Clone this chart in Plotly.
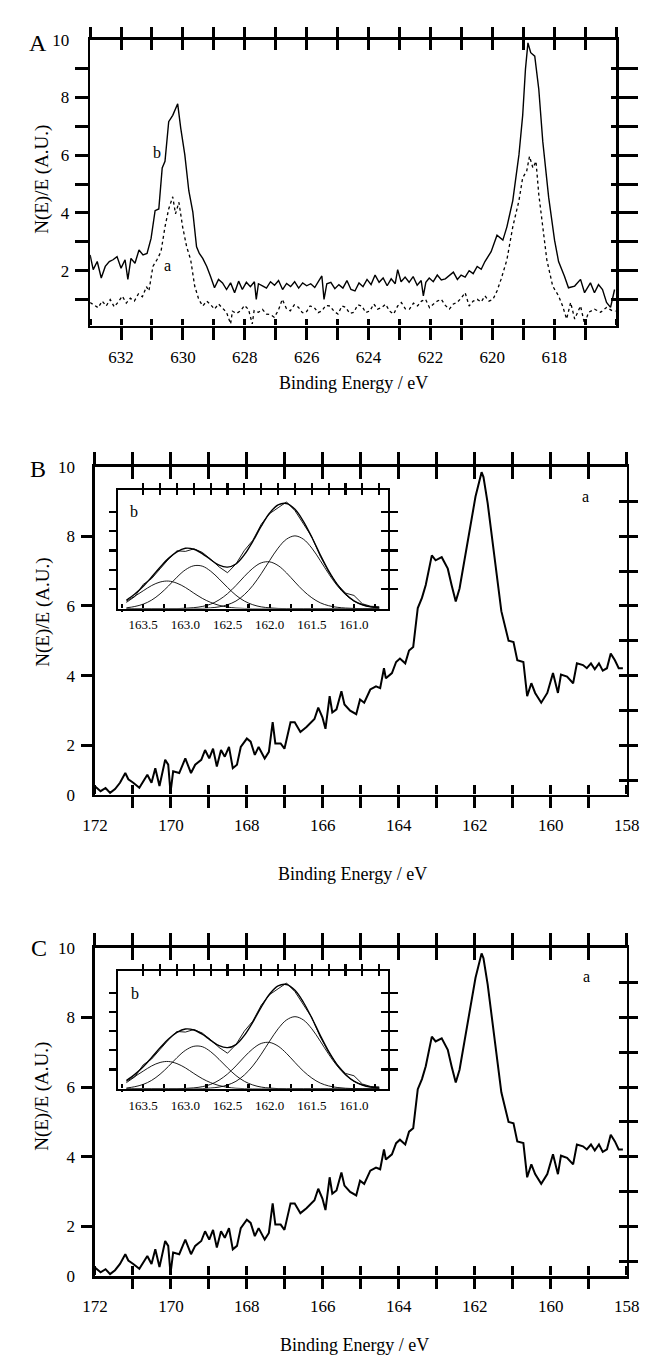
import plotly.graph_objects as go

W, H = 648, 1360
SERIF = "Liberation Serif, Times New Roman, serif"

# ---------------- Panel A data (Binding energy / eV, N(E)/E) ----------------
A_b_E = [633.0, 632.9, 632.77, 632.64, 632.51, 632.38, 632.26, 632.13, 632.0, 631.87,
         631.78, 631.68, 631.55, 631.42, 631.29, 631.16, 631.03, 630.9, 630.78, 630.67,
         630.58, 630.46, 630.33, 630.17, 630.07, 629.94, 629.81, 629.68, 629.56, 629.47,
         629.36, 629.23, 629.11,
         628.98, 628.85, 628.72, 628.59, 628.46, 628.33, 628.20, 628.08, 627.95, 627.82,
         627.69, 627.63, 627.56, 627.43, 627.30, 627.17, 627.04, 626.91, 626.78, 626.65,
         626.52, 626.39, 626.26, 626.13, 626.00, 625.87, 625.74, 625.61, 625.51, 625.44,
         625.35, 625.22, 625.09, 624.96, 624.83, 624.70, 624.57, 624.44, 624.31, 624.18,
         624.05, 623.92, 623.79, 623.66, 623.53, 623.40, 623.27, 623.14, 623.06, 622.95,
         622.82, 622.69, 622.56, 622.43, 622.30, 622.23, 622.15, 622.04, 621.91, 621.78,
         621.65, 621.52, 621.39, 621.26, 621.13, 621.01, 620.88, 620.75, 620.62, 620.49,
         620.36, 620.24,
         620.04, 619.85, 619.66, 619.53, 619.34, 619.14, 619.02, 618.93, 618.85, 618.76,
         618.63, 618.5, 618.37, 618.18, 617.99, 617.86, 617.67, 617.54, 617.34, 617.15,
         617.02, 616.83, 616.7, 616.57, 616.44, 616.31, 616.18, 616.05]
A_b_I = [2.55, 2.04, 2.32, 1.75, 2.15, 2.32, 2.38, 2.49, 2.09, 2.38,
         1.70, 2.43, 2.26, 2.72, 2.55, 2.60, 3.12, 4.08, 4.14, 5.56,
         5.79, 7.16, 7.38, 7.78, 6.93, 6.02, 4.77, 4.03, 2.83, 2.60,
         2.43, 2.15, 1.81,
         1.41, 1.70, 1.58, 1.35, 1.58, 1.24, 1.64, 1.35, 1.60, 1.45,
         1.62, 1.01, 1.55, 1.48, 1.40, 1.62, 1.50, 1.66, 1.35, 1.56,
         1.45, 1.62, 1.40, 1.58, 1.48, 1.55, 1.42, 1.65, 1.82, 1.01,
         1.55, 1.60, 1.38, 1.52, 1.40, 1.66, 1.35, 1.30, 1.58, 1.45,
         1.70, 1.52, 1.85, 1.60, 1.75, 1.48, 1.72, 1.55, 2.04, 1.62,
         1.78, 1.60, 1.80, 1.50, 1.66, 1.13, 1.60, 1.75, 1.62, 1.85,
         1.68, 1.72, 1.85, 1.95, 1.70, 1.85, 1.78, 2.00, 1.90, 2.15,
         2.05, 2.32,
         2.66, 3.23, 3.06, 3.52, 4.43, 6.02, 7.38, 8.98, 9.89, 9.55,
         9.43, 8.29, 6.47, 4.54, 3.06, 2.32, 1.81, 1.41, 1.47, 1.70,
         1.24, 1.58, 1.24, 1.52, 1.35, 0.90, 0.73, 1.35]

A_a_E = [633.0, 632.87, 632.74, 632.61, 632.48, 632.35, 632.22, 632.09, 631.96, 631.83,
         631.70, 631.57, 631.44, 631.31, 631.18, 631.10, 630.97, 630.84, 630.71, 630.58,
         630.46, 630.33, 630.24, 630.13, 630.01, 629.88, 629.75, 629.62, 629.49, 629.36,
         629.23, 629.10, 628.98, 628.85, 628.72, 628.59, 628.46, 628.40, 628.27, 628.14,
         628.01, 627.88, 627.76, 627.70, 627.56, 627.43, 627.30, 627.17, 627.05, 626.92,
         626.79, 626.66, 626.53, 626.40, 626.27, 626.14, 626.02, 625.89, 625.76, 625.63,
         625.51, 625.38, 625.25, 625.12, 624.99, 624.86, 624.74, 624.61, 624.48, 624.35,
         624.22, 624.09, 623.96, 623.83, 623.71, 623.58, 623.45, 623.32, 623.19, 623.06,
         622.94, 622.81, 622.68, 622.55, 622.42, 622.29, 622.16, 622.03, 621.91, 621.78,
         621.65, 621.52, 621.39, 621.26, 621.14, 621.01, 620.88, 620.75, 620.62, 620.49,
         620.36, 620.24, 620.11, 619.98, 619.85, 619.72, 619.53, 619.34, 619.14, 619.02,
         618.89, 618.80, 618.69, 618.59, 618.50, 618.37, 618.24, 618.05, 617.86, 617.73,
         617.60, 617.47, 617.34, 617.15, 617.02, 616.89, 616.70, 616.50, 616.31, 616.12,
         616.02]
A_a_I = [0.90, 0.80, 0.72, 0.95, 0.78, 1.00, 0.75, 0.92, 1.12, 0.88,
         1.05, 0.95, 1.20, 1.10, 1.45, 1.30, 2.15, 2.38, 2.66, 3.52,
         4.14, 4.56, 3.97, 4.37, 3.52, 2.83, 2.38, 1.47, 1.01, 0.78,
         0.95, 0.82, 0.67, 0.85, 0.72, 0.56, 0.16, 0.60, 0.52, 0.61,
         0.80, 0.66, 0.16, 0.62, 0.56, 0.66, 0.50, 0.48, 0.39, 0.62,
         1.01, 0.70, 0.61, 0.82, 0.74, 0.55, 0.56, 0.78, 0.73, 0.55,
         0.61, 0.80, 0.78, 0.60, 0.50, 0.78, 0.73, 0.52, 0.56, 0.82,
         0.78, 0.55, 0.61, 0.85, 0.67, 0.72, 0.84, 0.60, 0.50, 0.78,
         0.90, 0.68, 0.67, 0.88, 0.78, 0.95, 1.01, 0.72, 0.84, 0.95,
         1.01, 0.80, 0.67, 0.85, 0.90, 1.05, 1.24, 0.78, 0.95, 1.01,
         0.92, 1.13, 0.95, 1.01, 1.30, 1.70, 2.38, 3.52, 4.43, 5.22,
         5.45, 5.96, 5.56, 5.79, 4.65, 3.52, 2.38, 1.47, 1.13, 0.78,
         0.33, 0.90, 0.33, 0.78, 0.16, 0.56, 0.67, 0.56, 0.73, 0.61,
         0.60]

# ---------------- Panels B and C data (S 2p region) ----------------
S_E = [172.0, 171.85, 171.72, 171.6, 171.47, 171.34, 171.2, 171.12, 170.99, 170.83,
       170.62, 170.51, 170.41, 170.30, 170.15, 170.07, 170.01, 169.94, 169.78, 169.62,
       169.47, 169.36, 169.20, 169.10, 168.99, 168.89, 168.79, 168.68, 168.58, 168.47,
       168.37, 168.26, 168.16, 168.00, 167.90, 167.79, 167.69, 167.53, 167.42, 167.32,
       167.25, 167.11, 167.01, 166.85, 166.74, 166.59, 166.43, 166.22, 166.12, 166.01,
       165.93, 165.82, 165.75, 165.64, 165.51, 165.43, 165.28, 165.12, 165.02, 164.91,
       164.75, 164.60, 164.49, 164.39, 164.34, 164.18, 164.07, 163.97, 163.83, 163.73,
       163.62, 163.50, 163.39, 163.29, 163.13, 163.03, 162.87, 162.71, 162.61, 162.50,
       162.40, 162.24, 162.08, 161.98, 161.82, 161.77, 161.66, 161.51, 161.30, 161.11,
       160.98, 160.88, 160.72, 160.62, 160.51, 160.41, 160.25, 160.09, 159.94, 159.81,
       159.73, 159.57, 159.41, 159.31, 159.15, 159.05, 158.94, 158.84, 158.73, 158.63,
       158.52, 158.42, 158.31, 158.21, 158.10]
S_I = [0.82, 0.68, 0.77, 0.63, 0.74, 0.92, 1.20, 1.02, 0.92, 0.78,
       1.15, 0.92, 1.34, 0.83, 1.58, 1.44, 0.64, 1.25, 1.20, 1.62,
       1.20, 1.44, 1.58, 1.86, 1.62, 1.90, 1.39, 1.86, 1.67, 1.95,
       1.34, 1.44, 1.95, 2.19, 2.10, 1.72, 1.95, 1.62, 1.81, 2.66,
       2.05, 2.05, 1.90, 2.66, 2.66, 2.38, 2.52, 2.75, 3.08, 2.80,
       2.47, 3.41, 2.94, 3.03, 3.55, 3.17, 2.99, 2.89, 3.31, 3.22,
       3.60, 3.69, 3.64, 4.21, 3.92, 4.07, 4.39, 4.49, 4.35, 4.72,
       4.82, 5.94, 6.23, 6.60, 7.45, 7.31, 7.40, 7.07, 6.60, 6.13,
       6.50, 7.54, 8.57, 9.14, 9.84, 9.70, 8.95, 7.63, 5.85, 5.00,
       4.96, 4.44, 4.39, 3.41, 3.78, 3.50, 3.22, 3.50, 4.07, 3.50,
       4.03, 3.97, 3.78, 4.35, 4.30, 4.21, 4.35, 4.18, 4.35, 4.14,
       4.21, 4.63, 4.44, 4.21, 4.21]

# inset (curve fit of the S 2p doublet)
IN_E = [163.7, 163.6, 163.5, 163.4, 163.3, 163.2, 163.1, 163.0, 162.9, 162.8,
        162.7, 162.6, 162.5, 162.4, 162.3, 162.2, 162.1, 162.0, 161.9, 161.8,
        161.7, 161.6, 161.5, 161.4, 161.3, 161.2, 161.1, 161.0, 160.9, 160.8, 160.7]
IN_data = [0.32, 0.62, 1.25, 1.55, 2.05, 2.55, 2.98, 2.95, 3.08, 2.90,
           2.55, 2.15, 1.85, 2.30, 3.00, 3.52, 4.35, 4.90, 5.20, 5.50,
           5.05, 4.40, 3.70, 2.70, 1.90, 1.25, 0.80, 0.68, 0.25, 0.12, 0.10]
IN_fit = [0.43, 0.75, 1.15, 1.63, 2.13, 2.59, 2.93, 3.11, 3.06, 2.84,
          2.52, 2.24, 2.14, 2.30, 2.78, 3.47, 4.25, 4.93, 5.35, 5.42,
          5.12, 4.50, 3.68, 2.78, 1.95, 1.26, 0.75, 0.40, 0.20, 0.09, 0.04]
IN_c1 = [0.39, 0.64, 0.92, 1.19, 1.37, 1.42, 1.31, 1.09, 0.80, 0.53,
         0.32, 0.17, 0.08, 0.03, 0.01, 0, 0, 0, 0, 0,
         0, 0, 0, 0, 0, 0, 0, 0, 0, 0, 0]
IN_c2 = [0.04, 0.11, 0.23, 0.44, 0.76, 1.17, 1.62, 2.00, 2.21, 2.19,
         1.93, 1.53, 1.09, 0.69, 0.39, 0.20, 0.09, 0.04, 0.01, 0,
         0, 0, 0, 0, 0, 0, 0, 0, 0, 0, 0]
IN_c3 = [0, 0, 0, 0, 0, 0, 0, 0.02, 0.05, 0.11,
         0.23, 0.45, 0.77, 1.19, 1.66, 2.08, 2.36, 2.41, 2.22, 1.84,
         1.37, 0.92, 0.56, 0.30, 0.15, 0.07, 0.03, 0.01, 0, 0, 0]
IN_c4 = [0, 0, 0, 0, 0, 0, 0, 0, 0, 0.01,
         0.04, 0.09, 0.20, 0.39, 0.72, 1.19, 1.80, 2.48, 3.12, 3.58,
         3.75, 3.58, 3.12, 2.48, 1.80, 1.19, 0.72, 0.39, 0.20, 0.09, 0.04]

A_XTICKS = [632, 630, 628, 626, 624, 622, 620, 618]
A_XMINOR = [633, 632, 631, 630, 629, 628, 627, 626, 625, 624, 623, 622, 621, 620,
            619, 618, 617, 616]
A_YTICKS = [2, 4, 6, 8, 10]
A_YMINOR = [1, 2, 3, 4, 5, 6, 7, 8, 9, 10]
S_XTICKS = [172, 170, 168, 166, 164, 162, 160, 158]
S_XMINOR = [172, 171, 170, 169, 168, 167, 166, 165, 164, 163, 162, 161, 160, 159, 158]
S_YBOTTOM = 0.57
S_YTICKS = [S_YBOTTOM, 2, 4, 6, 8, 10]
S_YTEXT = ["0", "2", "4", "6", "8", "10"]
S_YRIGHT = [1, 2, 3, 4, 5, 6, 7, 8, 9]
IN_XTICKS = [163.5, 163.0, 162.5, 162.0, 161.5, 161.0]
IN_XTEXT = ["163.5", "163.0", "162.5", "162.0", "161.5", "161.0"]
IN_XMINOR = [163.75, 163.5, 163.25, 163.0, 162.75, 162.5, 162.25, 162.0, 161.75,
             161.5, 161.25, 161.0, 160.75]
IN_XTOP = [163.5, 163.3, 163.1, 162.9, 162.7, 162.5, 162.3, 162.1, 161.9, 161.7,
           161.5, 161.3, 161.1, 160.9, 160.7]
IN_YTICKS = [1, 2, 3, 4, 5]

LW = 2.5
TW = 3

layout = {}
traces = []
counter = {"x": 0, "y": 0}


def dx(a, b):
    return [a / W, b / W]


def dy(top, bottom):
    return [1 - bottom / H, 1 - top / H]


def new_axis(letter):
    counter[letter] += 1
    i = counter[letter]
    name = f"{letter}axis" if i == 1 else f"{letter}axis{i}"
    ref = letter if i == 1 else f"{letter}{i}"
    return name, ref


def base(**kw):
    d = dict(showgrid=False, zeroline=False, showline=False, ticks="", showticklabels=False,
             linecolor="black", tickcolor="black", linewidth=LW, tickwidth=TW,
             tickfont=dict(family=SERIF, size=17, color="black"), fixedrange=True)
    d.update(kw)
    return d


def ghost(x, y, X, Y):
    # invisible copy of the panel data so that each decorative tick axis is drawn
    traces.append(go.Scatter(x=x, y=y, xaxis=X, yaxis=Y, mode="lines", opacity=0,
                             line=dict(color="white", width=0.1),
                             showlegend=False, hoverinfo="skip"))


def add_panel(xdom, ydom, xr, yr, xlab, xlabtext, ylab, ylabtext,
              top_vals, bot_vals, right_vals, left_vals, top_len, right_len, bot_len, left_len,
              font_size, gx, gy, lw=LW, tw=TW):
    """*_len = (outside length, inside length) of the tick marks on that side.
    Bottom/left tick marks are drawn by helper axes placed just outside the frame,
    whose top/right sides coincide with the frame's bottom/left edges."""
    tf = dict(family=SERIF, size=font_size, color="black")
    xn, X = new_axis("x")
    yn, Y = new_axis("y")
    layout[xn] = base(domain=xdom, range=xr, anchor=Y, showline=True, linewidth=lw,
                      tickmode="array", tickvals=xlab, ticktext=xlabtext,
                      showticklabels=True, tickfont=tf, ticks="outside", ticklen=bot_len[0],
                      tickwidth=tw, tickcolor="rgba(0,0,0,0)")
    layout[yn] = base(domain=ydom, range=yr, anchor=X, showline=True, linewidth=lw,
                      tickmode="array", tickvals=ylab, ticktext=ylabtext,
                      showticklabels=ylabtext is not None, tickfont=tf,
                      ticks="outside", ticklen=left_len, tickwidth=tw,
                      tickcolor="rgba(0,0,0,0)")
    # top: crossing ticks
    for tdir, tlen, line_on in (("outside", top_len[0], True), ("inside", top_len[1], False)):
        n, r = new_axis("x")
        layout[n] = base(overlaying=X, anchor=Y, side="top", range=xr, showline=line_on,
                         linewidth=lw, ticks=tdir, ticklen=tlen, tickwidth=tw,
                         tickmode="array", tickvals=top_vals)
        ghost(gx, gy, r, Y)
    # right: crossing ticks
    for tdir, tlen, line_on in (("outside", right_len[0], True), ("inside", right_len[1], False)):
        n, r = new_axis("y")
        layout[n] = base(overlaying=Y, anchor=X, side="right", range=yr, showline=line_on,
                         linewidth=lw, ticks=tdir, ticklen=tlen, tickwidth=tw,
                         tickmode="array", tickvals=right_vals)
        ghost(gx, gy, X, r)
    # bottom: helper strip below the frame, ticks on its top side
    ybn, YB = new_axis("y")
    xbn, XB = new_axis("x")
    layout[ybn] = base(domain=[max(ydom[0] - 0.015, 0), ydom[0]], range=[0, 1], anchor=XB)
    layout[xbn] = base(domain=xdom, range=xr, anchor=YB, side="top", ticks="inside",
                       ticklen=bot_len[0], tickwidth=tw, tickmode="array", tickvals=bot_vals)
    ghost(gx, gy, XB, YB)
    if bot_len[1] > 0:
        n, r = new_axis("x")
        layout[n] = base(overlaying=XB, anchor=YB, side="top", range=xr, ticks="outside",
                         ticklen=bot_len[1], tickwidth=tw, tickmode="array",
                         tickvals=bot_vals)
        ghost(gx, gy, r, YB)
    # left: helper strip left of the frame, ticks on its right side
    xln, XL = new_axis("x")
    yln, YL = new_axis("y")
    layout[xln] = base(domain=[max(xdom[0] - 0.02, 0), xdom[0]], range=[0, 1], anchor=YL)
    layout[yln] = base(domain=ydom, range=yr, anchor=XL, side="right", ticks="inside",
                       ticklen=left_len, tickwidth=tw, tickmode="array", tickvals=left_vals)
    ghost(gx, gy, XL, YL)
    return X, Y


def line(x, y, X, Y, width, dash="solid", shape="linear"):
    traces.append(go.Scatter(x=x, y=y, xaxis=X, yaxis=Y, mode="lines",
                             line=dict(color="black", width=width, dash=dash, shape=shape),
                             showlegend=False, hoverinfo="skip"))


# Panel A
XA, YA = add_panel(dx(72, 620), dy(23, 313), [633, 616], [0.1, 10],
                   A_XTICKS, [str(v) for v in A_XTICKS], A_YTICKS, [str(v) for v in A_YTICKS],
                   A_XMINOR, A_XMINOR, S_YRIGHT, A_YMINOR,
                   (10, 10), (19, 5), (14, 6), 15, 17, A_b_E, A_b_I)
line(A_b_E, A_b_I, XA, YA, 1.4)
line(A_a_E, A_a_I, XA, YA, 1.3, dash="dot")

# Panels B and C
for ydom, idom in [(dy(456, 789), dy(480, 600)), (dy(944, 1277), dy(968, 1087))]:
    XS, YS = add_panel(dx(77, 631), ydom, [172, 158], [S_YBOTTOM, 10],
                       S_XTICKS, [str(v) for v in S_XTICKS], S_YTICKS, S_YTEXT,
                       S_XMINOR, S_XMINOR, S_YRIGHT, S_YTICKS,
                       (12, 12), (9, 8), (13, 9), 14, 17, S_E, S_I)
    line(S_E, S_I, XS, YS, 2.0)
    XI, YI = add_panel(dx(101, 382), idom, [163.8, 160.6], [0, 6.1],
                       IN_XTICKS, IN_XTEXT, IN_YTICKS, None,
                       IN_XTOP, IN_XMINOR, IN_YTICKS, IN_YTICKS,
                       (5, 5), (8, 7), (3, 4), 9, 13, IN_E, IN_fit, lw=2.2, tw=2.2)
    for comp in (IN_c1, IN_c2, IN_c3, IN_c4):
        line(IN_E, comp, XI, YI, 0.9, shape="spline")
    line(IN_E, IN_fit, XI, YI, 1.4, shape="spline")
    line(IN_E, IN_data, XI, YI, 0.9)


def ann(text, x, y, size, angle=0):
    return dict(text=text, x=x / W, y=1 - y / H, xref="paper", yref="paper",
                showarrow=False, textangle=angle, xanchor="center", yanchor="middle",
                font=dict(family=SERIF, size=size, color="black"))


annotations = [
    ann("A", 18, 26, 24), ann("B", 18, 458, 24), ann("C", 19, 944, 24),
    ann("N(E)/E (A.U.)", 22, 165, 19, -90),
    ann("N(E)/E (A.U.)", 22, 604, 19, -90),
    ann("N(E)/E (A.U.)", 22, 1095, 19, -90),
    ann("Binding Energy / eV", 346, 371, 18),
    ann("Binding Energy / eV", 345, 869, 18),
    ann("Binding Energy / eV", 347, 1347, 18),
    ann("b", 142, 137, 16), ann("a", 153, 252, 16),
    ann("a", 588, 486, 16), ann("b", 118, 502, 16),
    ann("a", 589, 973, 16), ann("b", 119, 990, 16),
]

fig = go.Figure(data=traces)
fig.update_layout(width=W, height=H, margin=dict(l=0, r=0, t=0, b=0),
                  paper_bgcolor="white", plot_bgcolor="rgba(0,0,0,0)", showlegend=False,
                  annotations=annotations, **layout)
fig.write_html("out.html", config={"staticPlot": True})
